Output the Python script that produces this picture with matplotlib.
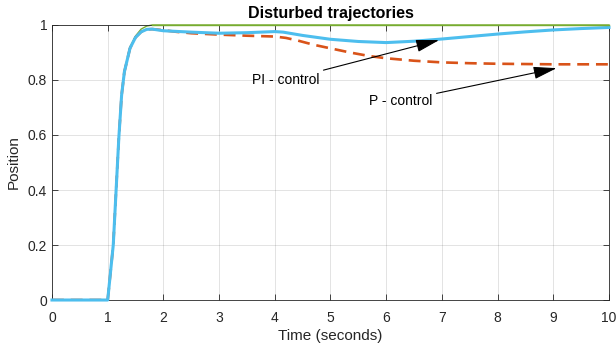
"""Disturbed trajectories: P vs PI control step response under a load disturbance."""

import matplotlib

matplotlib.use("Agg")
import matplotlib.pyplot as plt

plt.rcParams["font.family"] = ["Liberation Sans", "DejaVu Sans"]

BLUE = "#4DBEEE"
RED = "#D95319"
GREEN = "#77AC30"
AXC = "#262626"

# undisturbed reference response
t_ref = [0, 1.0, 1.1, 1.2, 1.25, 1.3, 1.4, 1.5, 1.6, 1.7, 1.8, 10]
y_ref = [0, 0, 0.2, 0.59, 0.745, 0.835, 0.92, 0.96, 0.985, 0.996, 1.0, 1.0]

# PI - control
t_pi = [0, 1.0, 1.1, 1.2, 1.25, 1.3, 1.4, 1.5, 1.6, 1.7, 1.8, 2.0, 2.5, 3.0,
        3.5, 4.0, 4.15, 4.5, 5.0, 5.5, 6.0, 6.5, 7.0, 7.5, 8.0, 8.5, 9.0, 9.5, 10]
y_pi = [0, 0, 0.2, 0.59, 0.745, 0.83, 0.915, 0.955, 0.975, 0.984, 0.985, 0.979,
        0.974, 0.97, 0.972, 0.976, 0.974, 0.962, 0.948, 0.94, 0.936, 0.941,
        0.949, 0.958, 0.967, 0.975, 0.982, 0.987, 0.991]

# P - control
t_p = [0, 1.0, 1.1, 1.2, 1.25, 1.3, 1.4, 1.5, 1.6, 1.7, 1.8, 2.0, 2.24, 2.5,
       3.0, 3.5, 4.0, 4.2, 4.42, 4.7, 5.0, 5.35, 5.7, 6.0, 6.5, 7.0, 7.5, 8.0,
       9.0, 10]
y_p = [0, 0, 0.2, 0.59, 0.745, 0.83, 0.915, 0.955, 0.975, 0.984, 0.985, 0.981,
       0.975, 0.97, 0.965, 0.961, 0.958, 0.953, 0.943, 0.928, 0.915, 0.9,
       0.887, 0.879, 0.87, 0.864, 0.861, 0.859, 0.857, 0.857]

xticks = list(range(0, 11))
yticks = [0, 0.2, 0.4, 0.6, 0.8, 1.0]
ytick_labels = ["0", "0.2", "0.4", "0.6", "0.8", "1"]

fig = plt.figure(figsize=(6.16, 3.47), dpi=100)
ax = fig.add_axes([0.0844, 0.1354, 0.9042, 0.7926])

ax.plot(t_ref, y_ref, color=GREEN, linewidth=1.0, zorder=2, clip_on=False)
ax.plot(t_p, y_p, color=RED, linewidth=1.9, dashes=(4.5, 2.6), zorder=3)
ax.plot(t_pi, y_pi, color=BLUE, linewidth=2.2, zorder=4, clip_on=False)
ax.plot(t_ref[-2:], y_ref[-2:], color=GREEN, linewidth=1.0, zorder=5, clip_on=False)

arrow = dict(arrowstyle="-|>,head_length=0.9,head_width=0.24", color="black",
             lw=0.8, shrinkA=1, shrinkB=0, mutation_scale=16)
ax.annotate("PI - control", xy=(6.95, 0.945), xytext=(4.8, 0.80),
            ha="right", va="center", fontsize=10, arrowprops=arrow, zorder=6)
ax.annotate("P - control", xy=(9.06, 0.843), xytext=(6.83, 0.724),
            ha="right", va="center", fontsize=10, arrowprops=arrow, zorder=6)

ax.set_xlim(0, 10)
ax.set_ylim(0, 1)
ax.set_xticks(xticks)
ax.set_yticks(yticks)
ax.set_yticklabels(ytick_labels)
ax.tick_params(direction="in", length=4, width=0.6, colors=AXC, labelsize=10,
               top=True, right=True, labelcolor=AXC)
ax.tick_params(axis="x", pad=8)
ax.grid(True, color="#262626", alpha=0.15, linewidth=0.6)
ax.set_axisbelow(True)
for spine in ax.spines.values():
    spine.set_color(AXC)
    spine.set_linewidth(0.6)

ax.set_xlabel("Time (seconds)", fontsize=11, color=AXC, labelpad=3)
ax.set_ylabel("Position", fontsize=11, color=AXC, labelpad=5)
ax.set_title("Disturbed trajectories", fontsize=11.5, fontweight="bold", pad=5)

fig.savefig("out.png", dpi=100)
